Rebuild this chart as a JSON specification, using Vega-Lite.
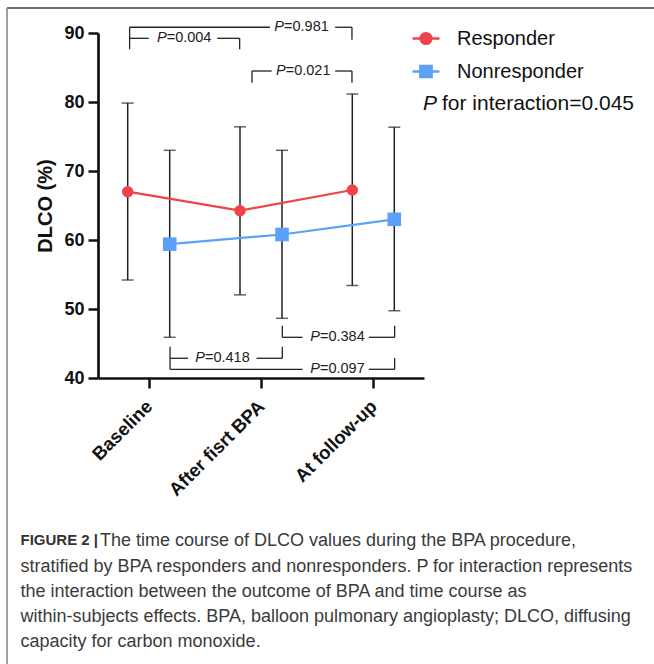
{
  "$schema": "https://vega.github.io/schema/vega-lite/v6.json",
  "width": 326,
  "height": 345,
  "autosize": {"type": "none"},
  "padding": {"left": 98, "top": 33, "right": 230, "bottom": 286},
  "background": "white",
  "title": {
    "text": "The time course of DLCO values during the BPA procedure,",
    "orient": "top",
    "anchor": "start",
    "frame": "group",
    "font": "Liberation Sans",
    "fontSize": 18,
    "fontWeight": "normal",
    "color": "#3a3a3a",
    "dx": 2,
    "dy": 547
  },
  "config": {
    "view": {"stroke": null},
    "font": "Liberation Sans",
    "axis": {"grid": false, "domainColor": "#111111", "tickColor": "#111111", "labelColor": "#111111", "titleColor": "#111111"},
    "axisY": {
      "labelFontSize": 18, "labelFontWeight": "bold", "labelPadding": 4,
      "tickSize": 10, "tickWidth": 2.5, "domainWidth": 2.7,
      "titleFontSize": 20, "titleFontWeight": "bold", "titlePadding": 8
    }
  },
  "layer": [
    {
      "data": {
        "values": [
          {"group": "Responder", "time": "Baseline", "mean": 67.0, "lo": 54.2, "hi": 79.85},
          {"group": "Responder", "time": "After fisrt BPA", "mean": 64.25, "lo": 52.05, "hi": 76.4},
          {"group": "Responder", "time": "At follow-up", "mean": 67.25, "lo": 53.4, "hi": 81.15},
          {"group": "Nonresponder", "time": "Baseline", "mean": 59.4, "lo": 45.9, "hi": 73.0},
          {"group": "Nonresponder", "time": "After fisrt BPA", "mean": 60.8, "lo": 48.65, "hi": 73.0},
          {"group": "Nonresponder", "time": "At follow-up", "mean": 63.0, "lo": 49.75, "hi": 76.35}
        ]
      },
      "encoding": {
        "x": {
          "field": "time", "type": "nominal",
          "sort": ["Baseline", "After fisrt BPA", "At follow-up"],
          "scale": {"type": "point", "padding": 0.4515},
          "axis": {
            "labelAngle": -45, "labelAlign": "right", "labelBaseline": "middle",
            "labelFontSize": 18.5, "labelFontWeight": "bold", "labelPadding": 15,
            "tickSize": 10, "tickWidth": 2.5, "domainWidth": 2.7,
            "title": ["stratified by BPA responders and nonresponders. P for interaction represents", "the interaction between the outcome of BPA and time course as", "within-subjects effects. BPA, balloon pulmonary angioplasty; DLCO, diffusing", "capacity for carbon monoxide."],
            "titleX": -78, "titleY": 179, "titleAlign": "left", "titleAnchor": null, "titleBaseline": "top",
            "titleFontSize": 18, "titleFontWeight": "normal", "titleColor": "#3a3a3a", "titleLineHeight": 25
          }
        },
        "xOffset": {
          "field": "group", "type": "nominal",
          "sort": ["Responder", "Nonresponder"],
          "scale": {"type": "point", "range": [-21, 21], "padding": 0}
        }
      },
      "layer": [
        {
          "mark": {"type": "rule", "color": "#222222", "strokeWidth": 1.5},
          "encoding": {
            "y": {"field": "lo", "type": "quantitative", "scale": {"domain": [40, 90], "nice": false, "zero": false}, "axis": {"values": [40, 50, 60, 70, 80, 90], "title": "DLCO (%)"}},
            "y2": {"field": "hi"}
          }
        },
        {"mark": {"type": "tick", "color": "#222222", "size": 12, "thickness": 1.5}, "encoding": {"y": {"field": "lo", "type": "quantitative", "scale": {"domain": [40, 90], "nice": false, "zero": false}, "axis": {"values": [40, 50, 60, 70, 80, 90], "title": "DLCO (%)"}}}},
        {"mark": {"type": "tick", "color": "#222222", "size": 12, "thickness": 1.5}, "encoding": {"y": {"field": "hi", "type": "quantitative", "scale": {"domain": [40, 90], "nice": false, "zero": false}, "axis": {"values": [40, 50, 60, 70, 80, 90], "title": "DLCO (%)"}}}},
        {
          "mark": {"type": "line", "strokeWidth": 2.2},
          "encoding": {
            "y": {"field": "mean", "type": "quantitative", "scale": {"domain": [40, 90], "nice": false, "zero": false}, "axis": {"values": [40, 50, 60, 70, 80, 90], "title": "DLCO (%)"}},
            "color": {
              "field": "group", "type": "nominal",
              "scale": {"domain": ["Responder", "Nonresponder"], "range": ["#F1424A", "#5BA1F7"]},
              "legend": {"title": null, "orient": "none", "legendX": 313, "legendY": -9.5, "symbolSize": 729, "symbolOpacity": 1, "symbolStrokeWidth": 2.4, "labelFontSize": 20, "labelColor": "#111111", "labelOffset": 16, "rowPadding": 7, "padding": 0}
            }
          }
        },
        {
          "mark": {"type": "point", "filled": true, "opacity": 0},
          "encoding": {
            "y": {"field": "mean", "type": "quantitative", "scale": {"domain": [40, 90], "nice": false, "zero": false}, "axis": {"values": [40, 50, 60, 70, 80, 90], "title": "DLCO (%)"}},
            "color": {
              "field": "group", "type": "nominal",
              "scale": {"domain": ["Responder", "Nonresponder"], "range": ["#F1424A", "#5BA1F7"]},
              "legend": {"title": null, "orient": "none", "legendX": 313, "legendY": -9.5, "symbolSize": 729, "symbolOpacity": 1, "symbolStrokeWidth": 2.4, "labelFontSize": 20, "labelColor": "#111111", "labelOffset": 16, "rowPadding": 7, "padding": 0}
            },
            "shape": {
              "field": "group", "type": "nominal",
              "scale": {"domain": ["Responder", "Nonresponder"], "range": ["M-1,0H-0.4M0.4,0H1M0.4,0A0.4,0.4,0,1,1,-0.4,0A0.4,0.4,0,1,1,0.4,0Z", "M-1,0H-0.42M0.42,0H1M-0.42,-0.42H0.42V0.42H-0.42Z"]},
              "legend": {"title": null, "orient": "none", "legendX": 313, "legendY": -9.5, "symbolSize": 729, "symbolOpacity": 1, "symbolStrokeWidth": 2.4, "labelFontSize": 20, "labelColor": "#111111", "labelOffset": 16, "rowPadding": 7, "padding": 0}
            }
          }
        },
        {
          "transform": [{"filter": "datum.group === 'Responder'"}],
          "mark": {"type": "point", "shape": "circle", "size": 130, "filled": true, "opacity": 1},
          "encoding": {
            "y": {"field": "mean", "type": "quantitative", "scale": {"domain": [40, 90], "nice": false, "zero": false}, "axis": {"values": [40, 50, 60, 70, 80, 90], "title": "DLCO (%)"}},
            "color": {
              "field": "group", "type": "nominal",
              "scale": {"domain": ["Responder", "Nonresponder"], "range": ["#F1424A", "#5BA1F7"]},
              "legend": {"title": null, "orient": "none", "legendX": 313, "legendY": -9.5, "symbolSize": 729, "symbolOpacity": 1, "symbolStrokeWidth": 2.4, "labelFontSize": 20, "labelColor": "#111111", "labelOffset": 16, "rowPadding": 7, "padding": 0}
            }
          }
        },
        {
          "transform": [{"filter": "datum.group === 'Nonresponder'"}],
          "mark": {"type": "point", "shape": "square", "size": 185, "filled": true, "opacity": 1},
          "encoding": {
            "y": {"field": "mean", "type": "quantitative", "scale": {"domain": [40, 90], "nice": false, "zero": false}, "axis": {"values": [40, 50, 60, 70, 80, 90], "title": "DLCO (%)"}},
            "color": {
              "field": "group", "type": "nominal",
              "scale": {"domain": ["Responder", "Nonresponder"], "range": ["#F1424A", "#5BA1F7"]},
              "legend": {"title": null, "orient": "none", "legendX": 313, "legendY": -9.5, "symbolSize": 729, "symbolOpacity": 1, "symbolStrokeWidth": 2.4, "labelFontSize": 20, "labelColor": "#111111", "labelOffset": 16, "rowPadding": 7, "padding": 0}
            }
          }
        }
      ]
    },
    {
      "layer": [
        {
          "data": {
            "values": [
              {"x": 0.83, "x2": 2.08, "y": 90.83, "y2": 90.83},
              {"x": 2.66, "x2": 2.81, "y": 90.83, "y2": 90.83},
              {"x": 2.81, "x2": 2.81, "y": 90.83, "y2": 89.03},
              {"x": 0.83, "x2": 0.83, "y": 90.83, "y2": 87.64},
              {"x": 0.83, "x2": 1.0, "y": 89.23, "y2": 89.23},
              {"x": 1.61, "x2": 1.81, "y": 89.23, "y2": 89.23},
              {"x": 1.81, "x2": 1.81, "y": 89.23, "y2": 87.64},
              {"x": 1.92, "x2": 2.095, "y": 84.49, "y2": 84.49},
              {"x": 2.66, "x2": 2.81, "y": 84.49, "y2": 84.49},
              {"x": 1.92, "x2": 1.92, "y": 84.49, "y2": 82.8},
              {"x": 2.81, "x2": 2.81, "y": 84.49, "y2": 82.8},
              {"x": 2.19, "x2": 2.37, "y": 45.9, "y2": 45.9},
              {"x": 2.96, "x2": 3.19, "y": 45.9, "y2": 45.9},
              {"x": 2.19, "x2": 2.19, "y": 45.9, "y2": 47.58},
              {"x": 3.19, "x2": 3.19, "y": 45.9, "y2": 47.58},
              {"x": 1.19, "x2": 1.35, "y": 42.86, "y2": 42.86},
              {"x": 1.96, "x2": 2.19, "y": 42.86, "y2": 42.86},
              {"x": 2.19, "x2": 2.19, "y": 42.86, "y2": 44.54},
              {"x": 1.19, "x2": 1.19, "y": 41.26, "y2": 44.54},
              {"x": 1.19, "x2": 2.37, "y": 41.26, "y2": 41.26},
              {"x": 2.96, "x2": 3.19, "y": 41.26, "y2": 41.26},
              {"x": 3.19, "x2": 3.19, "y": 41.26, "y2": 42.9}
            ]
          },
          "mark": {"type": "rule", "color": "#222222", "strokeWidth": 1.3},
          "encoding": {
            "x": {
              "field": "x", "type": "quantitative", "scale": {"domain": [0.5485, 3.4515], "nice": false, "zero": false},
              "axis": {
                "orient": "bottom", "title": "FIGURE 2 |", "labels": false, "ticks": false, "domain": false, "grid": false,
                "titleX": -78, "titleY": 154, "titleAlign": "left", "titleAnchor": null, "titleBaseline": "top",
                "titleFontSize": 15, "titleFontWeight": "bold", "titleColor": "#333333"
              }
            },
            "x2": {"field": "x2"},
            "y": {"field": "y", "type": "quantitative", "scale": {"domain": [40, 90], "nice": false, "zero": false}, "axis": {"values": [40, 50, 60, 70, 80, 90], "title": "DLCO (%)"}},
            "y2": {"field": "y2"}
          }
        },
        {
          "data": {
            "values": [
              {"x": 2.205, "y": 90.83, "lab": "=0.981"},
              {"x": 1.16, "y": 89.23, "lab": "=0.004"},
              {"x": 2.22, "y": 84.49, "lab": "=0.021"},
              {"x": 2.525, "y": 45.9, "lab": "=0.384"},
              {"x": 1.501, "y": 42.86, "lab": "=0.418"},
              {"x": 2.525, "y": 41.26, "lab": "=0.097"}
            ]
          },
          "encoding": {
            "x": {"field": "x", "type": "quantitative", "scale": {"domain": [0.5485, 3.4515], "nice": false, "zero": false}},
            "y": {"field": "y", "type": "quantitative", "scale": {"domain": [40, 90], "nice": false, "zero": false}, "axis": {"values": [40, 50, 60, 70, 80, 90], "title": "DLCO (%)"}}
          },
          "layer": [
            {"mark": {"type": "text", "align": "right", "baseline": "middle", "fontSize": 14.5, "fontStyle": "italic", "color": "#222222"}, "encoding": {"text": {"value": "P"}}},
            {"mark": {"type": "text", "align": "left", "baseline": "middle", "fontSize": 14.5, "color": "#222222"}, "encoding": {"text": {"field": "lab"}}}
          ]
        },
        {
          "data": {"values": [{"x": 3.567, "y": 79.7, "lab": "for interaction=0.045"}]},
          "encoding": {
            "x": {"field": "x", "type": "quantitative", "scale": {"domain": [0.5485, 3.4515], "nice": false, "zero": false}},
            "y": {"field": "y", "type": "quantitative", "scale": {"domain": [40, 90], "nice": false, "zero": false}, "axis": {"values": [40, 50, 60, 70, 80, 90], "title": "DLCO (%)"}}
          },
          "layer": [
            {"mark": {"type": "text", "align": "right", "baseline": "middle", "fontSize": 21, "fontStyle": "italic", "color": "#111111"}, "encoding": {"text": {"value": "P"}}},
            {"mark": {"type": "text", "align": "left", "baseline": "middle", "fontSize": 21, "dx": 5, "color": "#111111"}, "encoding": {"text": {"field": "lab"}}}
          ]
        },
        {
          "data": {"values": [{}]},
          "mark": {"type": "rule", "color": "#3c3c3c", "strokeWidth": 1.4},
          "encoding": {
            "x": {"datum": -0.262, "type": "quantitative", "scale": {"domain": [0.5485, 3.4515], "nice": false, "zero": false}},
            "x2": {"datum": 5.6},
            "y": {"datum": 93.62, "type": "quantitative", "scale": {"domain": [40, 90], "nice": false, "zero": false}, "axis": {"values": [40, 50, 60, 70, 80, 90], "title": "DLCO (%)"}}
          }
        },
        {
          "data": {"values": [{}]},
          "mark": {"type": "rule", "color": "#8a8a8a", "strokeWidth": 1.6},
          "encoding": {
            "x": {"datum": -0.262, "type": "quantitative", "scale": {"domain": [0.5485, 3.4515], "nice": false, "zero": false}},
            "y": {"datum": 93.62, "type": "quantitative", "scale": {"domain": [40, 90], "nice": false, "zero": false}, "axis": {"values": [40, 50, 60, 70, 80, 90], "title": "DLCO (%)"}},
            "y2": {"datum": -5}
          }
        }
      ]
    }
  ],
  "resolve": {"scale": {"x": "independent"}}
}
